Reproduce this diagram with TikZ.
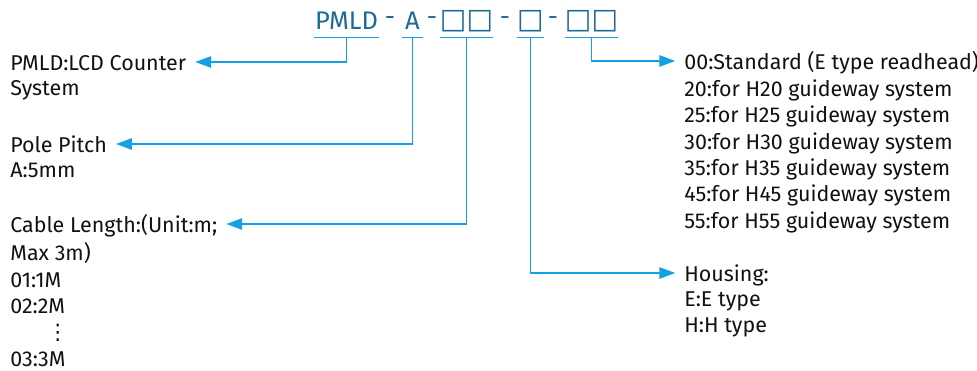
\documentclass[tikz,border=0pt]{standalone}
\usepackage{fontspec}
\setmainfont{Fira Sans}
\newfontfamily\boxfont{DejaVu Sans}
\usepackage{tikz}
\usetikzlibrary{positioning, arrows.meta, calc}
\definecolor{codeblue}{HTML}{1B6A97}
\definecolor{linkblue}{HTML}{14A0E4}
\definecolor{labeltext}{HTML}{111111}
\tikzset{
  code part/.style={
    text=codeblue,
    font=\fontsize{14.5}{15}\selectfont,
    inner sep=0pt,
    minimum height=0.64cm
  },
  code dash/.style={
    text=codeblue,
    font=\fontsize{14.5}{15}\selectfont,
    inner sep=0pt
  },
  underline/.style={draw=linkblue, line width=0.8pt},
  link/.style={
    -{Triangle[length=9pt,width=6.5pt]},
    line width=0.7pt,
    draw=linkblue,
    shorten >=5pt
  },
  key/.style={
    font=\fontsize{12.2}{15}\selectfont,
    text=labeltext,
    inner sep=0pt,
    text height=10pt, text depth=0pt
  },
  detail/.style={
    font=\fontsize{12.2}{15}\selectfont,
    text=labeltext,
    inner sep=0pt,
    align=left,
    anchor=north west
  }
}
\newcommand{\slot}{{\boxfont\bfseries\fontsize{16}{16}\selectfont □}}

\begin{document}
\begin{tikzpicture}[x=0.02cm, y=-0.02cm]
  \useasboundingbox (0,0) rectangle (977,370);

  % model code
  \node[code part, minimum width=1.3cm] (pmld) at (346.5,21) {PMLD};
  \node[code dash] (d1) at (390,21) {-};
  \node[code part, minimum width=0.42cm] (pitch) at (412.5,21) {A};
  \node[code dash] (d2) at (432,21) {-};
  \node[code part, minimum width=0.9cm] (cablecode) at (466.5,21) {\slot\slot};
  \node[code dash] (d3) at (505,21) {-};
  \node[code part, minimum width=0.42cm] (housecode) at (530.5,21) {\slot};
  \node[code dash] (d4) at (553,21) {-};
  \node[code part, minimum width=0.9cm] (railcode) at (591.5,21) {\slot\slot};

  \foreach \part in {pmld, pitch, cablecode, housecode, railcode}
    \draw[underline] (\part.south west) -- (\part.south east);

  % left side
  \node[key, anchor=west] (sys) at (10,62) {PMLD:LCD Counter};
  \node[detail] (sysinfo) at ([yshift=-5.3pt]sys.south west) {System};

  \node[key, anchor=west] (pole) at (10,144) {Pole Pitch};
  \node[detail] (poleinfo) at ([yshift=-5.3pt]pole.south west) {A:5mm};

  \node[key, anchor=west] (cable) at (10,224) {Cable Length:(Unit:m;};
  \node[detail] (cableinfo) at ([yshift=-5.3pt]cable.south west)
    {Max 3m)\\01:1M\\02:2M\\\hspace*{21pt}{\boxfont ⋮}\\03:3M};

  % right side
  \node[key, anchor=west] (std) at (684,61) {00:Standard (E type readhead)};
  \node[detail] (stdinfo) at ([yshift=-5.3pt]std.south west)
    {20:for H20 guideway system\\25:for H25 guideway system\\30:for H30 guideway system\\35:for H35 guideway system\\45:for H45 guideway system\\55:for H55 guideway system};

  \node[key, anchor=west] (housing) at (684,273) {Housing:};
  \node[detail] (housinginfo) at ([yshift=-5.3pt]housing.south west) {E:E type\\H:H type};

  \draw[link] (pmld.south) |- (sys.east);
  \draw[link] (pitch.south) |- (pole.east);
  \draw[link] (cablecode.south) |- (cable.east);
  \draw[link] (housecode.south) |- (housing.west);
  \draw[link] (railcode.south) |- (std.west);
\end{tikzpicture}
\end{document}
